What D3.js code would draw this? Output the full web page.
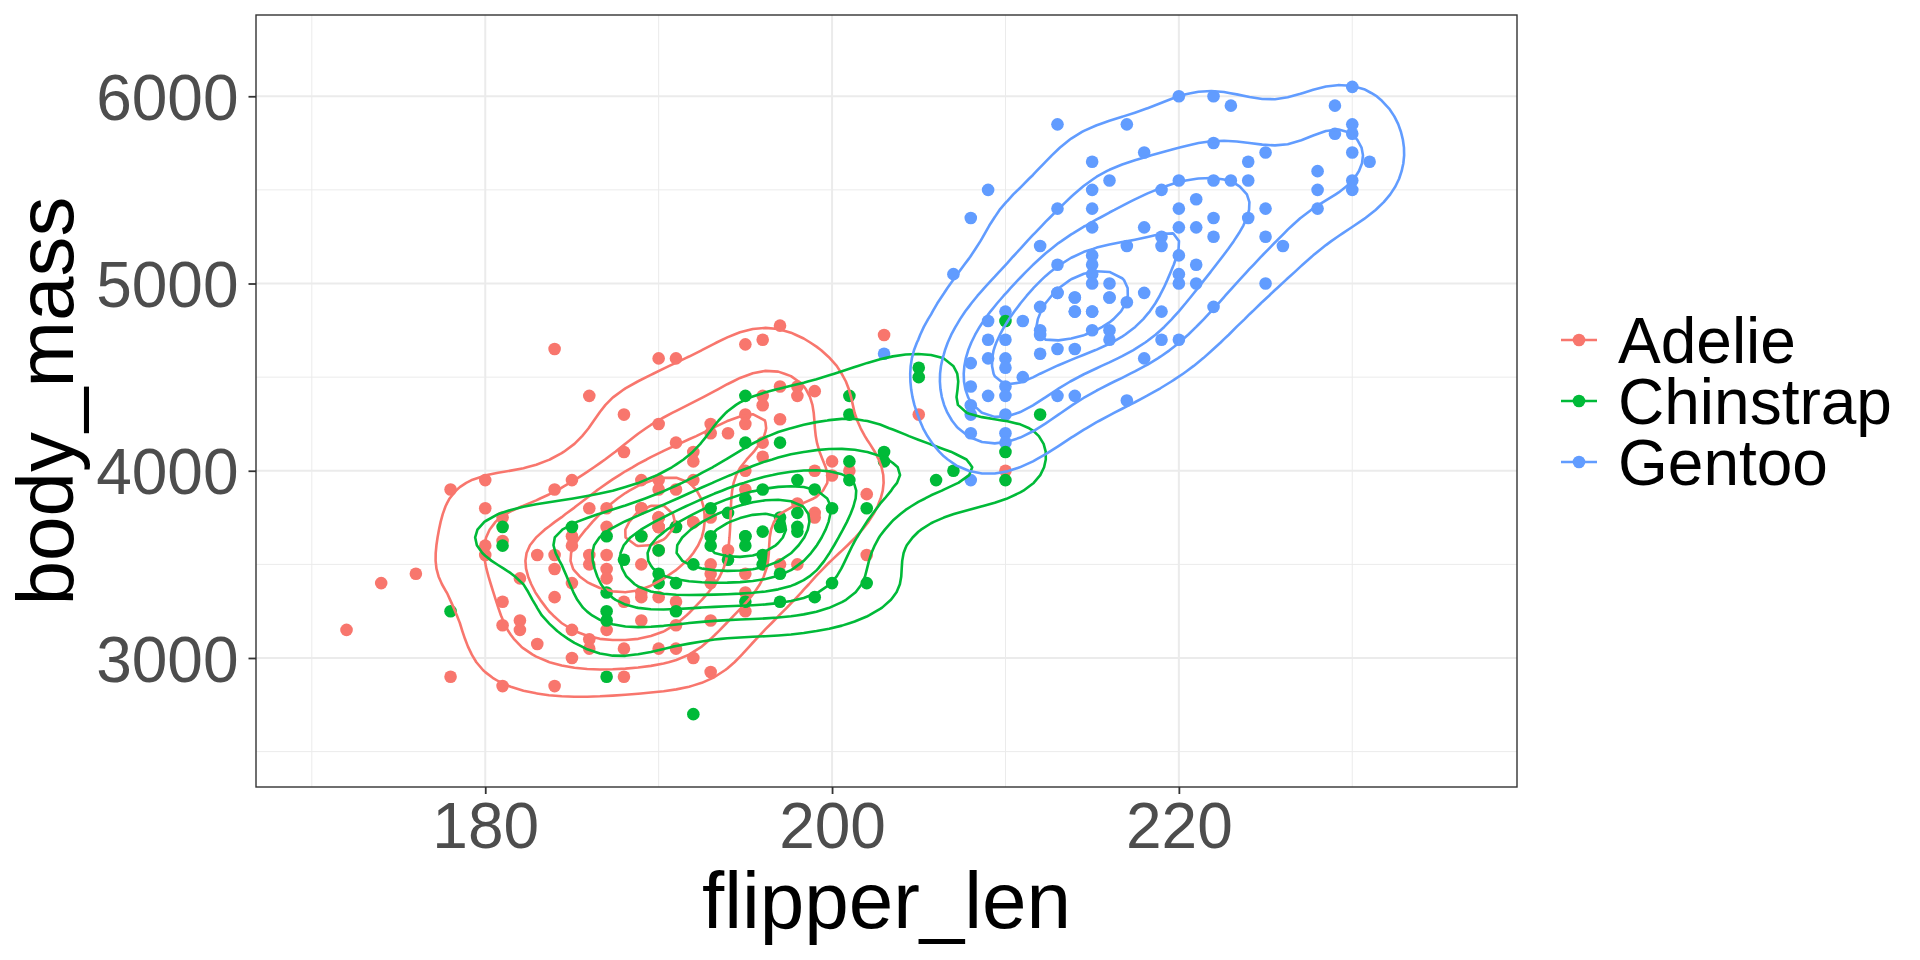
<!DOCTYPE html>
<html>
<head>
<meta charset="utf-8">
<script src="https://cdnjs.cloudflare.com/ajax/libs/d3/7.8.5/d3.min.js"></script>
<style>
  html, body { margin: 0; padding: 0; background: #fff; }
  text { font-family: "Liberation Sans", Arial, Helvetica, sans-serif; }
</style>
</head>
<body>
<svg id="chart" width="1920" height="960"></svg>
<script>
// penguins: [flipper_len, body_mass]
// (repeated pairs stand for points hidden under others)
var adelie = [
  [172,3150],[174,3400],[176,3450],[178,3900],[178,2900],
  [180,3950],[180,3800],[180,3600],[180,3550],
  [181,3750],[181,3625],[181,3300],[181,3175],[181,2850],
  [182,3425],[182,3200],[182,3150],
  [183,3075],[183,3550],
  [184,4650],[184,3900],[184,3550],[184,3475],[184,3325],[184,2850],
  [185,3950],[185,3650],[185,3600],[185,3400],[185,3150],[185,3000],
  [186,4400],[186,3800],[186,3550],[186,3500],[186,3100],[186,3050],
  [187,3800],[187,3700],[187,3550],[187,3475],[187,3425],[187,3150],
  [188,4300],[188,4100],[188,3300],[188,3050],[188,2900],
  [189,3950],[189,3800],[189,3800],[189,3650],[189,3500],[189,3350],[189,3325],[189,3200],
  [190,4600],[190,4250],[190,3950],[190,3900],[190,3750],[190,3750],[190,3750],
  [190,3700],[190,3700],[190,3700],[190,3575],[190,3325],[190,3050],
  [191,4600],[191,4150],[191,3900],[191,3700],[191,3300],[191,3175],[191,3050],
  [192,4100],[192,4050],[192,3950],[192,3725],[192,3725],[192,3000],
  [193,4250],[193,4200],[193,3750],[193,3500],[193,3450],[193,3400],[193,3200],[193,2925],
  [194,4200],[194,3575],
  [195,4675],[195,4300],[195,4250],[195,4000],[195,3900],[195,3450],[195,3350],[195,3250],
  [196,4700],[196,4400],[196,4350],[196,4150],[196,4075],
  [197,4775],[197,4450],[197,4275],[197,3500],
  [198,4450],[198,4400],[198,3825],[198,3500],
  [199,4425],[199,4000],[199,3775],[199,3750],
  [200,4050],[200,3975],
  [201,4000],
  [202,3875],[202,3550],
  [203,4725],
  [205,4300],
  [210,4000]
];

var chinstrap = [
  [178,3250],[181,3700],[181,3600],[185,3700],
  [187,3650],[187,3350],[187,3250],[187,3200],[187,2900],
  [188,3525],[189,3650],[190,3575],[190,3450],[190,3400],
  [191,3700],[191,3400],[191,3250],
  [192,3500],[192,2700],
  [193,3800],[193,3650],[193,3600],
  [194,3775],[194,3525],
  [195,4400],[195,4150],[195,3850],[195,3650],[195,3650],[195,3600],[195,3300],
  [196,3900],[196,3675],[196,3550],[196,3500],
  [197,4150],[197,3750],[197,3700],[197,3450],[197,3300],
  [198,3950],[198,3775],[198,3700],[198,3675],
  [199,3900],[199,3325],
  [200,3800],[200,3400],
  [201,4400],[201,4300],[201,4050],[201,3950],
  [202,3800],[202,3400],
  [203,4100],[203,4050],
  [205,4550],[205,4500],
  [206,3950],[207,4000],
  [210,4800],[210,4100],[210,3950],
  [212,4300]
];

var gentoo = [
  [203,4625],[207,5050],
  [208,5350],[208,4575],[208,4450],[208,4350],[208,4300],[208,4200],[208,3950],
  [209,5500],[209,4800],[209,4700],[209,4600],[209,4400],
  [210,4850],[210,4700],[210,4600],[210,4550],[210,4450],[210,4400],[210,4300],[210,4200],[210,4150],
  [211,4800],[211,4500],
  [212,5200],[212,4875],[212,4750],[212,4725],[212,4625],
  [213,5850],[213,5400],[213,5100],[213,4950],[213,4950],[213,4650],[213,4400],
  [214,4925],[214,4925],[214,4850],[214,4850],[214,4650],[214,4400],
  [215,5650],[215,5500],[215,5400],[215,5300],[215,5150],[215,5100],[215,5050],[215,5000],
  [215,4850],[215,4850],[215,4750],
  [216,5550],[216,5000],[216,4925],[216,4925],[216,4750],[216,4700],
  [217,5850],[217,5200],[217,4900],[217,4375],
  [218,5700],[218,5300],[218,4950],[218,4600],
  [219,5500],[219,5250],[219,5200],[219,4850],[219,4700],
  [220,6000],[220,5550],[220,5400],[220,5300],[220,5150],[220,5050],[220,5000],[220,4700],
  [221,5450],[221,5300],[221,5100],[221,5000],
  [222,6000],[222,5750],[222,5550],[222,5350],[222,5250],[222,4875],
  [223,5950],[223,5550],
  [224,5650],[224,5550],[224,5350],
  [225,5700],[225,5400],[225,5250],[225,5000],
  [226,5200],
  [228,5600],[228,5500],[228,5400],
  [229,5950],[229,5800],
  [230,6050],[230,5850],[230,5800],[230,5700],[230,5550],[230,5500],
  [231,5650]
];

var species = ["Adelie", "Chinstrap", "Gentoo"];
var speciesColors = ["#F8766D", "#00BA38", "#619CFF"];
var xTicks = [180, 200, 220];
var xMinor = [170, 190, 210, 230];
var yTicks = [3000, 4000, 5000, 6000];
var yMinor = [2500, 3500, 4500, 5500];

var groups = { "Adelie": adelie, "Chinstrap": chinstrap, "Gentoo": gentoo };
var pointOrder = ["Adelie", "Gentoo", "Chinstrap"];   // row order of the table

// panel box
var panel = { left: 256, right: 1517, top: 15, bottom: 787 };

var svg = d3.select("#chart");

var x = d3.scaleLinear().domain([166.78, 239.5]).range([panel.left, panel.right]);
var y = d3.scaleLinear().domain([2311, 6434]).range([panel.bottom, panel.top]);
var color = d3.scaleOrdinal().domain(species).range(speciesColors);

// MASS::bandwidth.nrd
function bandwidthNrd(v) {
  var s = d3.deviation(v),
      sorted = v.slice().sort(d3.ascending),
      h = (d3.quantileSorted(sorted, 0.75) - d3.quantileSorted(sorted, 0.25)) / 1.34;
  return 4 * 1.06 * Math.min(s, h) * Math.pow(v.length, -0.2);
}

// MASS::kde2d on an n x n grid
var n = 100;
var xlim = x.domain(), ylim = y.domain();
var sx = (xlim[1] - xlim[0]) / (n - 1), sy = (ylim[1] - ylim[0]) / (n - 1);

function kde2d(pts) {
  var xs = pts.map(function(d) { return d[0]; }),
      ys = pts.map(function(d) { return d[1]; }),
      hx = bandwidthNrd(xs) / 4,
      hy = bandwidthNrd(ys) / 4,
      norm = 1 / (2 * Math.PI * pts.length * hx * hy),
      values = new Float64Array(n * n);
  var kx = d3.range(n).map(function(i) {
    var g = xlim[0] + i * sx;
    return xs.map(function(v) { var u = (g - v) / hx; return Math.exp(-0.5 * u * u); });
  });
  var ky = d3.range(n).map(function(j) {
    var g = ylim[0] + j * sy;
    return ys.map(function(v) { var u = (g - v) / hy; return Math.exp(-0.5 * u * u); });
  });
  for (var j = 0; j < n; ++j) {
    for (var i = 0; i < n; ++i) {
      var s = 0;
      for (var k = 0; k < pts.length; ++k) s += kx[i][k] * ky[j][k];
      values[j * n + i] = s * norm;
    }
  }
  return values;
}

var dens = species.map(function(s) { return kde2d(groups[s]); });
var zmax = d3.max(dens, function(v) { return d3.max(v); });
var breaks = d3.ticks(0, zmax, 10).filter(function(t) { return t > 0; });

// grid coords -> screen
var gridPath = d3.geoPath(d3.geoTransform({
  point: function(px, py) {
    this.stream.point(x(xlim[0] + (px - 0.5) * sx), y(ylim[0] + (py - 0.5) * sy));
  }
}));

// ---- panel grid
var grid = svg.append("g").attr("class", "grid");
grid.selectAll("line.xminor").data(xMinor).enter().append("line")
  .attr("x1", function(d) { return x(d); }).attr("x2", function(d) { return x(d); })
  .attr("y1", panel.top).attr("y2", panel.bottom)
  .attr("stroke", "#EBEBEB").attr("stroke-width", 1);
grid.selectAll("line.yminor").data(yMinor).enter().append("line")
  .attr("y1", function(d) { return y(d); }).attr("y2", function(d) { return y(d); })
  .attr("x1", panel.left).attr("x2", panel.right)
  .attr("stroke", "#EBEBEB").attr("stroke-width", 1);
grid.selectAll("line.xmajor").data(xTicks).enter().append("line")
  .attr("x1", function(d) { return x(d); }).attr("x2", function(d) { return x(d); })
  .attr("y1", panel.top).attr("y2", panel.bottom)
  .attr("stroke", "#EBEBEB").attr("stroke-width", 2);
grid.selectAll("line.ymajor").data(yTicks).enter().append("line")
  .attr("y1", function(d) { return y(d); }).attr("y2", function(d) { return y(d); })
  .attr("x1", panel.left).attr("x2", panel.right)
  .attr("stroke", "#EBEBEB").attr("stroke-width", 2);

svg.append("clipPath").attr("id", "clip").append("rect")
  .attr("x", panel.left).attr("y", panel.top)
  .attr("width", panel.right - panel.left).attr("height", panel.bottom - panel.top);

var plot = svg.append("g").attr("clip-path", "url(#clip)");

// points
pointOrder.forEach(function(s) {
  plot.append("g").selectAll("circle").data(groups[s]).enter().append("circle")
    .attr("cx", function(d) { return x(d[0]); })
    .attr("cy", function(d) { return y(d[1]); })
    .attr("r", 6.3)
    .attr("fill", color(s));
});

// density contours
species.forEach(function(s, i) {
  var iso = d3.contours().size([n, n]).thresholds(breaks)(dens[i]);
  plot.append("g").selectAll("path").data(iso).enter().append("path")
    .attr("d", gridPath)
    .attr("fill", "none")
    .attr("stroke", color(s))
    .attr("stroke-width", 2.6)
    .attr("stroke-linejoin", "round");
});

// panel border
svg.append("rect")
  .attr("x", panel.left).attr("y", panel.top)
  .attr("width", panel.right - panel.left).attr("height", panel.bottom - panel.top)
  .attr("fill", "none").attr("stroke", "#333333").attr("stroke-width", 1.4);

// axes
var xAxis = svg.append("g")
  .attr("transform", "translate(0," + panel.bottom + ")")
  .call(d3.axisBottom(x).tickValues(xTicks).tickFormat(d3.format("d"))
    .tickSize(7).tickSizeOuter(0).tickPadding(8.6));
var yAxis = svg.append("g")
  .attr("transform", "translate(" + panel.left + ",0)")
  .call(d3.axisLeft(y).tickValues(yTicks).tickFormat(d3.format("d"))
    .tickSize(7.5).tickSizeOuter(0).tickPadding(10));
[xAxis, yAxis].forEach(function(a) {
  a.select(".domain").remove();
  a.selectAll(".tick line").attr("stroke", "#333333").attr("stroke-width", 1.8);
  a.selectAll(".tick text")
    .attr("fill", "#4D4D4D")
    .style("font-size", "64px")
    .style("font-family", "'Liberation Sans', Arial, sans-serif");
});
yAxis.selectAll(".tick text").attr("dy", "0.36em");

// axis titles
svg.append("text")
  .attr("x", (panel.left + panel.right) / 2).attr("y", 928)
  .attr("text-anchor", "middle")
  .style("font-size", "80px")
  .text("flipper_len");
svg.append("text")
  .attr("transform", "translate(73," + (panel.top + panel.bottom) / 2 + ") rotate(-90)")
  .attr("text-anchor", "middle")
  .style("font-size", "80px")
  .text("body_mass");

// legend
var legend = svg.append("g").attr("transform", "translate(1579,340)");
var rows = legend.selectAll("g").data(species).enter().append("g")
  .attr("transform", function(d, i) { return "translate(0," + i * 61 + ")"; });
rows.append("line")
  .attr("x1", -18).attr("x2", 18)
  .attr("stroke", function(d) { return color(d); })
  .attr("stroke-width", 2.6);
rows.append("circle")
  .attr("r", 6.3)
  .attr("fill", function(d) { return color(d); });
rows.append("text")
  .attr("x", 39).attr("dy", "0.36em")
  .style("font-size", "64px")
  .attr("fill", "#000")
  .text(function(d) { return d; });
</script>
</body>
</html>
